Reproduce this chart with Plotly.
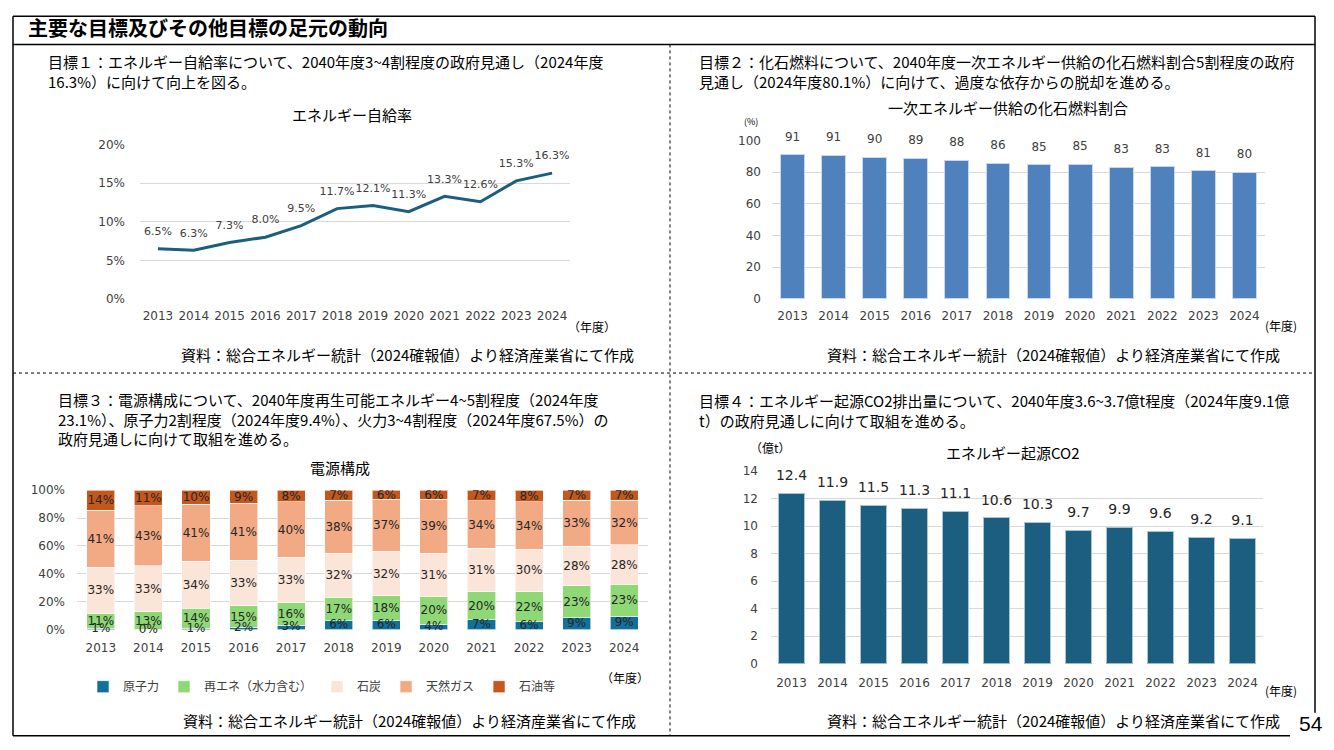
import plotly.graph_objects as go

# ---- data ----
years = ["2013", "2014", "2015", "2016", "2017", "2018",
         "2019", "2020", "2021", "2022", "2023", "2024"]

# 目標1: エネルギー自給率 (%)
self_sufficiency = [6.5, 6.3, 7.3, 8.0, 9.5, 11.7, 12.1, 11.3, 13.3, 12.6, 15.3, 16.3]

# 目標2: 一次エネルギー供給の化石燃料割合 (%)
fossil_share = [91.2, 90.6, 89.6, 88.9, 87.6, 85.7, 84.8, 85.0, 83.2, 83.4, 80.8, 80.1]

# 目標3: 電源構成 (%)
nuclear = [0.9, 0.0, 0.9, 1.7, 3.1, 6.2, 6.2, 3.9, 6.9, 5.6, 8.6, 9.4]
renewables = [10.9, 12.6, 14.4, 15.3, 16.0, 16.9, 18.0, 19.8, 20.3, 21.7, 22.9, 23.1]
coal = [32.9, 33.3, 33.7, 32.7, 32.7, 31.6, 32.0, 31.0, 31.0, 30.4, 28.4, 28.2]
gas = [40.9, 42.9, 40.9, 40.9, 39.8, 38.3, 37.4, 39.0, 34.4, 34.0, 32.9, 32.0]
oil = [14.4, 11.2, 10.1, 9.4, 8.4, 7.0, 6.4, 6.3, 7.4, 8.3, 7.2, 7.3]
mix_names = ["原子力", "再エネ（水力含む）", "石炭", "天然ガス", "石油等"]
mix_colors = ["#12719c", "#8fd876", "#fbe4d8", "#f2aa84", "#c4571b"]

# 目標4: エネルギー起源CO2 (億t)
co2 = [12.4, 11.9, 11.5, 11.3, 11.1, 10.6, 10.3, 9.7, 9.9, 9.6, 9.2, 9.1]

# ---- styling ----
# page placement: 8px body margin on the left, and the capture squeezes
# the height a little, so positions (in target pixels) are mapped back here
OFF_X = 8
SY, OY = 0.979, 16
W, H = 1318, 734
CJK = "Noto Sans CJK JP"
NUM = "DejaVu Sans"
TICK = "#404040"
GRID = "#d9d9d9"
TEAL = "#1b5e80"


def X(px):
    return (px - OFF_X) / W


def Y(py):
    return 1 - (py / SY - OY) / H


fig = go.Figure()

# panel 1: line
fig.add_trace(go.Scatter(
    x=years, y=[v / 100 for v in self_sufficiency], mode="lines+markers+text",
    line=dict(color=TEAL, width=3),
    marker=dict(size=16, color="rgba(0,0,0,0)"),
    text=[f"{v:.1f}%" for v in self_sufficiency], textposition="top center",
    textfont=dict(family=NUM, size=11, color=TICK),
    xaxis="x", yaxis="y", showlegend=False, cliponaxis=False,
))

# panel 2: fossil share bars
fig.add_trace(go.Bar(
    x=years, y=fossil_share, marker=dict(color="#4f81bd", line=dict(color="#c9d7ea", width=1)),
    width=0.58, xaxis="x2", yaxis="y2", showlegend=False,
))
fig.add_trace(go.Scatter(
    x=years, y=fossil_share, mode="markers+text",
    marker=dict(size=16, color="rgba(0,0,0,0)"),
    text=[f"{v:.0f}" for v in fossil_share], textposition="top center",
    textfont=dict(family=NUM, size=12, color=TICK),
    xaxis="x2", yaxis="y2", showlegend=False, cliponaxis=False,
))

# panel 3: stacked power mix
for name, vals, col in zip(mix_names, [nuclear, renewables, coal, gas, oil], mix_colors):
    labelled = name != "原子力"
    fig.add_trace(go.Bar(
        x=years, y=vals, name=name, marker=dict(color=col, line=dict(color="white", width=0.6)),
        width=0.59,
        texttemplate="%{y:.0f}%" if labelled else None,
        textposition="inside" if labelled else "none",
        insidetextanchor="middle", textangle=0, constraintext="none",
        textfont=dict(family=NUM, size=12, color="#262626"),
        xaxis="x3", yaxis="y3", legend="legend",
    ))
# nuclear labels sit on the bar centre, like the source chart
fig.add_trace(go.Scatter(
    x=years, y=[v / 2 for v in nuclear], mode="text",
    text=[f"{v:.0f}%" for v in nuclear],
    textfont=dict(family=NUM, size=12, color="#262626"),
    xaxis="x3", yaxis="y3", showlegend=False, cliponaxis=False,
))

# panel 4: CO2 bars
fig.add_trace(go.Bar(
    x=years, y=co2, marker=dict(color=TEAL, line=dict(color="#a9c3d2", width=1)),
    width=0.64, xaxis="x4", yaxis="y4", showlegend=False,
))
fig.add_trace(go.Scatter(
    x=years, y=co2, mode="markers+text",
    marker=dict(size=14, color="rgba(0,0,0,0)"),
    text=[f"{v:.1f}" for v in co2], textposition="top center",
    textfont=dict(family=NUM, size=14, color="#262626"),
    xaxis="x4", yaxis="y4", showlegend=False, cliponaxis=False,
))

ax_common = dict(showline=False, zeroline=False, showgrid=False, ticks="",
                 tickfont=dict(family=NUM, size=12, color=TICK))
grid_common = dict(showgrid=True, gridcolor=GRID, gridwidth=1, zeroline=False, showline=False,
                   ticks="", tickfont=dict(family=NUM, size=12, color=TICK))

fig.update_layout(
    width=W, height=H, margin=dict(l=0, r=0, t=0, b=0),
    paper_bgcolor="white", plot_bgcolor="white",
    barmode="stack",
    xaxis=dict(domain=[X(140), X(570)], anchor="y", range=[-0.5, 11.5], ticklabelstandoff=8, **ax_common),
    yaxis=dict(domain=[Y(299), Y(145)], anchor="x", range=[0, 0.2], dtick=0.05, tickformat=".0%",
               ticklabelstandoff=14, **grid_common),
    xaxis2=dict(domain=[X(772), X(1265)], anchor="y2", range=[-0.5, 11.5], ticklabelstandoff=8, **ax_common),
    yaxis2=dict(domain=[Y(299), Y(141)], anchor="x2", range=[0, 100], dtick=20,
                ticklabelstandoff=10, **grid_common),
    xaxis3=dict(domain=[X(77), X(648)], anchor="y3", range=[-0.5, 11.5], ticklabelstandoff=9, **ax_common),
    yaxis3=dict(domain=[Y(629), Y(490)], anchor="x3", range=[0, 100], dtick=20, ticksuffix="%",
                ticklabelstandoff=11, **grid_common),
    xaxis4=dict(domain=[X(771), X(1263)], anchor="y4", range=[-0.5, 11.5], ticklabelstandoff=10, **ax_common),
    yaxis4=dict(domain=[Y(663), Y(471)], anchor="x4", range=[0, 14], dtick=2,
                ticklabelstandoff=12, **grid_common),
    legend=dict(orientation="h", x=X(322), y=Y(686), xanchor="center", yanchor="middle",
                font=dict(family=CJK, size=12, color=TICK), itemwidth=30, traceorder="normal",
                bgcolor="rgba(0,0,0,0)"),
)

# ---- frame and dividers ----
line_k = dict(color="black", width=1.5)
dot_k = dict(color="black", width=1, dash="dot")
TOP = 17
shapes = [
    dict(type="line", x0=X(13), x1=X(1315), y0=Y(TOP), y1=Y(TOP), line=line_k),
    dict(type="line", x0=X(13), x1=X(13), y0=Y(TOP), y1=Y(735), line=line_k),
    dict(type="line", x0=X(1315), x1=X(1315), y0=Y(TOP), y1=Y(712), line=line_k),
    dict(type="line", x0=X(13), x1=X(1290), y0=Y(735), y1=Y(735), line=line_k),
    dict(type="line", x0=X(13), x1=X(1315), y0=Y(45), y1=Y(45), line=line_k),
    dict(type="line", x0=X(670), x1=X(670), y0=Y(45), y1=Y(735), line=dot_k),
    dict(type="line", x0=X(13), x1=X(1315), y0=Y(373), y1=Y(373), line=dot_k),
]
for s in shapes:
    s.update(xref="paper", yref="paper")
fig.update_layout(shapes=shapes)


def note(text, x, y, size=15, xanchor="left", family=CJK, color="black", bold=False):
    if bold:
        text = f"<b>{text}</b>"
    fig.add_annotation(text=text, x=X(x), y=Y(y), xref="paper", yref="paper",
                       xanchor=xanchor, yanchor="middle", showarrow=False, align="left",
                       font=dict(family=family, size=size, color=color))


note("主要な目標及びその他目標の足元の動向", 26, 28, size=20, bold=True)

src = "資料：総合エネルギー統計（2024確報値）より経済産業省にて作成"

# panel 1 texts
note("目標１：エネルギー自給率について、2040年度3~4割程度の政府見通し（2024年度<br>16.3%）に向けて向上を図る。",
     46, 72)
note("エネルギー自給率", 352, 115, xanchor="center")
note("（年度）", 592, 327, size=12, xanchor="center")
note(src, 636, 354, xanchor="right")

# panel 2 texts
note("目標２：化石燃料について、2040年度一次エネルギー供給の化石燃料割合5割程度の政府<br>見通し（2024年度80.1%）に向けて、過度な依存からの脱却を進める。",
     697, 72)
note("一次エネルギー供給の化石燃料割合", 1008, 108, xanchor="center")
note("(%)", 751, 122, size=9, xanchor="center")
note("(年度)", 1281, 326, size=12, xanchor="center")
note(src, 1282, 354, xanchor="right")

# panel 3 texts
note("目標３：電源構成について、2040年度再生可能エネルギー4~5割程度（2024年度<br>23.1%）、原子力2割程度（2024年度9.4%）、火力3~4割程度（2024年度67.5%）の<br>政府見通しに向けて取組を進める。",
     56, 419)
note("電源構成", 340, 467, xanchor="center")
note("（年度）", 625, 677, size=12, xanchor="center")
note(src, 638, 720, xanchor="right")

# panel 4 texts
note("目標４：エネルギー起源CO2排出量について、2040年度3.6~3.7億t程度（2024年度9.1億<br>t）の政府見通しに向けて取組を進める。",
     697, 410)
note("エネルギー起源CO2", 1013, 452, xanchor="center")
note("（億t）", 770, 447, size=12, xanchor="center")
note("(年度)", 1281, 690, size=12, xanchor="center")
note(src, 1282, 720, xanchor="right")

note("54", 1311, 723, size=21, xanchor="center", family="Liberation Sans")

fig.write_html("out.html")
